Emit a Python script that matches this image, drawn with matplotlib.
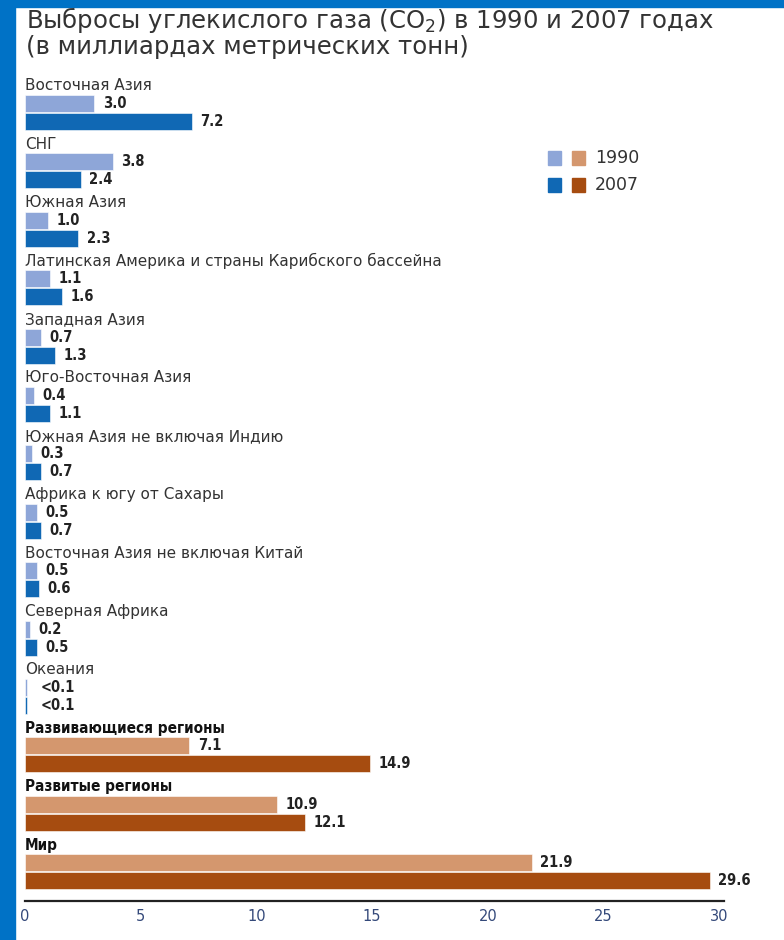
import matplotlib.pyplot as plt
import matplotlib.patches as mpatches

regions = ['Восточная Азия', 'СНГ', 'Южная Азия',
           'Латинская Америка и страны Карибского бассейна',
           'Западная Азия', 'Юго-Восточная Азия',
           'Южная Азия не включая Индию', 'Африка к югу от Сахары',
           'Восточная Азия не включая Китай', 'Северная Африка', 'Океания',
           'Развивающиеся регионы', 'Развитые регионы', 'Мир']
v1990 = [3.0, 3.8, 1.0, 1.1, 0.7, 0.4, 0.3, 0.5, 0.5, 0.2, 0.09, 7.1, 10.9, 21.9]
v2007 = [7.2, 2.4, 2.3, 1.6, 1.3, 1.1, 0.7, 0.7, 0.6, 0.5, 0.09, 14.9, 12.1, 29.6]
# last three rows are the aggregates
n_aggr = 3
xticks = [0, 5, 10, 15, 20, 25, 30]

W, H = 784, 940
fig = plt.figure(figsize=(W / 100, H / 100), dpi=100)
fig.patch.set_facecolor('white')

# blue frame on top and left
fig.patches.append(mpatches.Rectangle((0, 1 - 7 / H), 1, 7 / H, transform=fig.transFigure,
                                      color='#0072c6', zorder=0))
fig.patches.append(mpatches.Rectangle((0, 0), 15 / W, 1, transform=fig.transFigure,
                                      color='#0072c6', zorder=0))

# axes placed in pixels: y runs in pixel units downward
top, bottom = 75, 901
ax = fig.add_axes([25 / W, (H - bottom) / H, (724 - 25) / W, (bottom - top) / H])
ax.set_ylim(bottom, top)
ax.set_xlim(0, 30.2)

pitch = 58.4
bh = 17
light_blue, dark_blue = '#8ea6d8', '#1068b4'
light_brown, dark_brown = '#d4976e', '#a64c10'

for i, name in enumerate(regions):
    y0 = 86 + pitch * i
    aggr = i >= len(regions) - n_aggr
    c1, c2 = (light_brown, dark_brown) if aggr else (light_blue, dark_blue)
    if aggr:
        ax.text(0, y0, name, ha='left', va='center', fontsize=11,
                fontweight='bold', color='#111111', stretch='condensed')
    else:
        ax.text(0, y0, name, ha='left', va='center', fontsize=11, color='#333333')
    for val, yc, col in [(v1990[i], y0 + 17.5, c1), (v2007[i], y0 + 35.5, c2)]:
        ax.barh(yc, val, height=bh, color=col, edgecolor='white', linewidth=0.4)
        lab = '<0.1' if val < 0.1 else '%.1f' % val
        ax.annotate(lab, (val, yc), xytext=(10 if val < 0.1 else 6, 0),
                    textcoords='offset points', ha='left', va='center',
                    fontsize=10.5, fontweight='bold', color='#222222',
                    stretch='condensed')

# title
fig.text(26 / W, 1 - 20 / H, 'Выбросы углекислого газа (CO$_2$) в 1990 и 2007 годах',
         fontsize=17.6, color='#333333', va='center', ha='left')
fig.text(26 / W, 1 - 47 / H, '(в миллиардах метрических тонн)',
         fontsize=17.6, color='#333333', va='center', ha='left')

# legend
for row, (year, ca, cb) in enumerate([('1990', light_blue, light_brown),
                                      ('2007', dark_blue, dark_brown)]):
    yc = 158 + 27 * row
    for xl, col in [(548, ca), (572, cb)]:
        fig.patches.append(mpatches.Rectangle((xl / W, 1 - (yc + 6.5) / H), 13 / W, 13 / H,
                                              transform=fig.transFigure, color=col))
    fig.text(595 / W, 1 - yc / H, year, fontsize=12.5, color='#333333',
             va='center', ha='left')

for s in ['top', 'right', 'left']:
    ax.spines[s].set_visible(False)
ax.spines['bottom'].set_linewidth(1.6)
ax.spines['bottom'].set_color('#222222')
ax.set_yticks([])
ax.set_xticks(xticks)
ax.tick_params(axis='x', length=0, pad=6, labelsize=10.5, labelcolor='#34497a')

fig.savefig('out.png', dpi=100)
